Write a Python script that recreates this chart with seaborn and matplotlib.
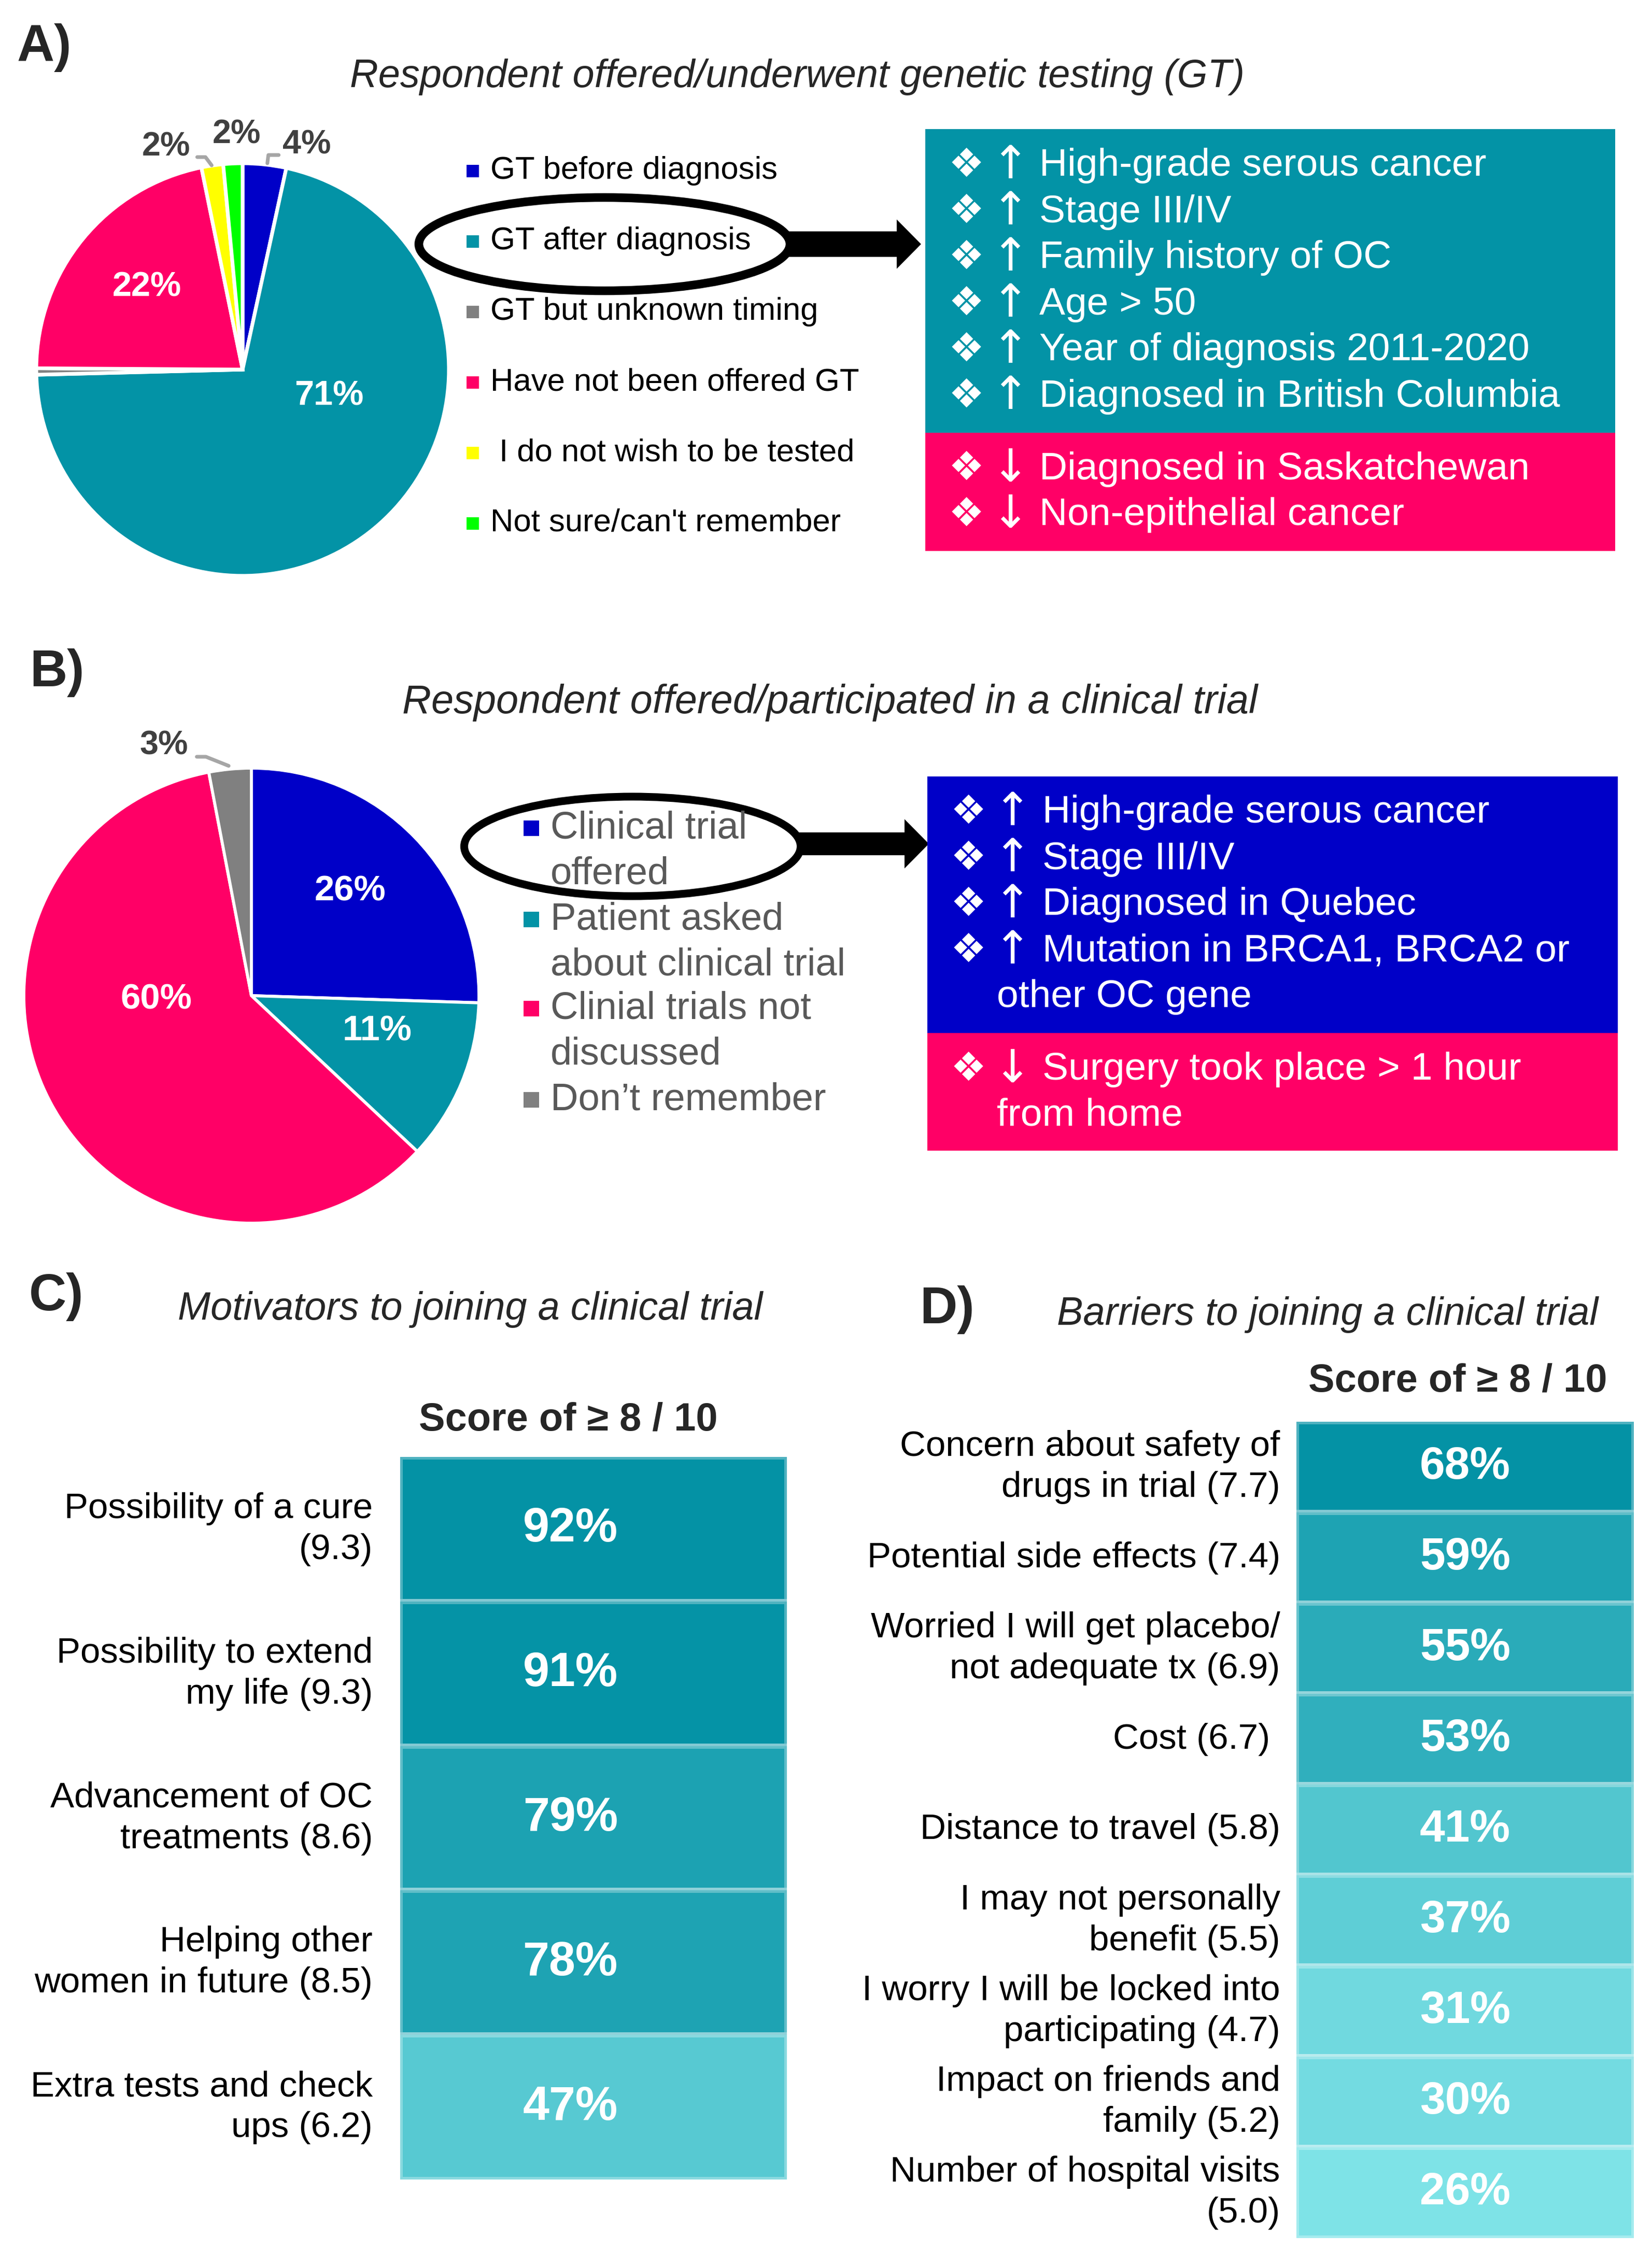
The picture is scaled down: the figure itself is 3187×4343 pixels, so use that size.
import numpy as np
import pandas as pd
import matplotlib
matplotlib.use("Agg")
import matplotlib.pyplot as plt
import matplotlib.patches as mpatches
from matplotlib.colors import LinearSegmentedColormap
import seaborn as sns

# ---- data -------------------------------------------------------------
# A) genetic testing
gt_labels = ["GT before diagnosis", "GT after diagnosis", "GT but unknown timing",
             "Have not been offered GT", " I do not wish to be tested",
             "Not sure/can't remember"]
gt_share = [3.4, 71.2, 0.5, 21.7, 1.7, 1.5]
gt_text = ["4%", "71%", "", "22%", "2%", "2%"]
gt_colors = ["#0000C8", "#0393A6", "#808080", "#FF0066", "#FFFF00", "#00FF00"]
gt_up = ["High-grade serous cancer", "Stage III/IV", "Family history of OC",
         "Age > 50", "Year of diagnosis 2011-2020", "Diagnosed in British Columbia"]
gt_down = ["Diagnosed in Saskatchewan", "Non-epithelial cancer"]

# B) clinical trials
ct_labels = ["Clinical trial\noffered", "Patient asked\nabout clinical trial",
             "Clinial trials not\ndiscussed", "Don\u2019t remember"]
ct_share = [25.5, 11.5, 60.0, 3.0]
ct_text = ["26%", "11%", "60%", "3%"]
ct_colors = ["#0000C8", "#0393A6", "#FF0066", "#808080"]
ct_up = ["High-grade serous cancer", "Stage III/IV", "Diagnosed in Quebec",
         "Mutation in BRCA1, BRCA2 or\nother OC gene"]
ct_down = ["Surgery took place > 1 hour\nfrom home"]

# C) motivators
motivators = ["Possibility of a cure\n(9.3)", "Possibility to extend\nmy life (9.3)",
              "Advancement of OC\ntreatments (8.6)", "Helping other\nwomen in future (8.5)",
              "Extra tests and check\nups (6.2)"]
motivator_pct = [92, 91, 79, 78, 47]

# D) barriers
barriers = ["Concern about safety of\ndrugs in trial (7.7)", "Potential side effects (7.4)",
            "Worried I will get placebo/\nnot adequate tx (6.9)", "Cost (6.7) ",
            "Distance to travel (5.8)", "I may not personally\nbenefit (5.5)",
            "I worry I will be locked into\nparticipating (4.7)",
            "Impact on friends and\nfamily (5.2)", "Number of hospital visits\n(5.0)"]
barrier_pct = [68, 59, 55, 53, 41, 37, 31, 30, 26]

# ---- figure -----------------------------------------------------------
W, H = 3187, 4343
sns.set_theme(style="white")
plt.rcParams["font.family"] = ["Liberation Sans", "DejaVu Sans"]

fig = plt.figure(figsize=(W / 300, H / 300), dpi=300)


def px_rect(x0, y0, x1, y1):
    return [x0 / W, 1 - y1 / H, (x1 - x0) / W, (y1 - y0) / H]


def draw_pie(ax, share, colors, lw):
    wedges, _ = ax.pie(share, colors=colors, startangle=90, counterclock=False,
                       radius=1, wedgeprops=dict(edgecolor="white", linewidth=lw))
    ax.set_xlim(-1, 1)
    ax.set_ylim(-1, 1)
    ax.set_aspect("equal")
    ax.set_facecolor("none")
    return wedges


# pie A
ax_a = fig.add_axes(px_rect(70, 315, 866, 1111))
draw_pie(ax_a, gt_share, gt_colors, 1.7)
pos_a = [(0.31, 1.09), (0.42, -0.13), None, (-0.465, 0.397), (-0.37, 1.08), (-0.03, 1.14)]
for txt, p in zip(gt_text, pos_a):
    if p is None or not txt:
        continue
    inside = p[0] ** 2 + p[1] ** 2 < 1
    ax_a.text(p[0], p[1], txt, ha="center", va="center", fontweight="bold",
              fontsize=16 if inside else 15.5, color="white" if inside else "#404040")
ax_a.plot([0.12, 0.125, 0.175], [1.0, 1.04, 1.04], color="#A6A6A6", lw=1.7, clip_on=False)
ax_a.plot([-0.15, -0.18, -0.22], [0.99, 1.03, 1.03], color="#A6A6A6", lw=1.7, clip_on=False)

# pie B
ax_b = fig.add_axes(px_rect(46, 1482, 924, 2360))
draw_pie(ax_b, ct_share, ct_colors, 1.4)
pos_b = [(0.435, 0.458), (0.553, -0.155), (-0.417, -0.016), (-0.385, 1.10)]
for txt, p in zip(ct_text, pos_b):
    inside = p[0] ** 2 + p[1] ** 2 < 1
    ax_b.text(p[0], p[1], txt, ha="center", va="center", fontweight="bold",
              fontsize=16.5 if inside else 15.5, color="white" if inside else "#404040")
ax_b.plot([-0.24, -0.2, -0.1], [1.05, 1.05, 1.01], color="#A6A6A6", lw=1.7, clip_on=False)

# heatmaps C and D
teal = LinearSegmentedColormap.from_list("teal_ramp", ["#7EE3E7", "#0492A5"])


def draw_scores(rect, labels, pct, vmax, annot_size, pad, shift):
    ax = fig.add_axes(px_rect(*rect))
    df = pd.DataFrame({"pct": pct}, index=labels)
    annot = np.array([[f"{v}%"] for v in pct])
    sns.heatmap(df, ax=ax, cmap=teal, vmin=26, vmax=vmax, cbar=False,
                annot=annot, fmt="", xticklabels=False,
                linewidths=2, linecolor=(1, 1, 1, 0.3),
                annot_kws=dict(fontsize=annot_size, fontweight="bold", color="white"))
    ax.set_ylabel("")
    ax.tick_params(axis="y", length=0, pad=pad, labelsize=16.6, labelcolor="black")
    plt.setp(ax.get_yticklabels(), rotation=0, ha="right", linespacing=1.3)
    for t in ax.texts:
        x, y = t.get_position()
        t.set_position((x + shift, y))
    return ax


draw_scores((772, 2811, 1518, 4205), motivators, motivator_pct, 92, 22, 12.7, -0.06)
draw_scores((2501, 2743, 3152, 4318), barriers, barrier_pct, 68, 21, 7.5, 0.0)

# ---- overlay: titles, legends, boxes, arrows -------------------------
ov = fig.add_axes([0, 0, 1, 1], zorder=10)
ov.axis("off")

for letter, x, y in [("A)", 33, 92), ("B)", 57, 1298), ("C)", 56, 2502), ("D)", 1774, 2527)]:
    ov.text(x, y, letter, fontsize=24, fontweight="bold", ha="left", va="center")

ov.text(1538, 148, "Respondent offered/underwent genetic testing (GT)", fontsize=18.2,
        style="italic", ha="center", va="center")
ov.text(1601, 1356, "Respondent offered/participated in a clinical trial", fontsize=18.6,
        style="italic", ha="center", va="center")
ov.text(907, 2527, "Motivators to joining a clinical trial", fontsize=18.2,
        style="italic", ha="center", va="center")
ov.text(2561, 2537, "Barriers to joining a clinical trial", fontsize=18.2,
        style="italic", ha="center", va="center")
ov.text(1096, 2740, "Score of \u2265 8 / 10", fontsize=18.2, fontweight="bold",
        ha="center", va="center")
ov.text(2812, 2665, "Score of \u2265 8 / 10", fontsize=18.2, fontweight="bold",
        ha="center", va="center")

# legend A
for i, (lab, col) in enumerate(zip(gt_labels, gt_colors)):
    y = 330 + i * 136
    ov.scatter(912, y, marker="s", s=34, color=col, linewidths=0)
    ov.text(946, y, lab, fontsize=14.8, ha="left", va="center", color="black")

# legend B
rows_b = [1598, 1774, 1946, 2122]
for lab, col, y in zip(ct_labels, ct_colors, rows_b):
    ov.scatter(1025, y, marker="s", s=49, color=col, linewidths=0)
    for j, line in enumerate(lab.split("\n")):
        ov.text(1062, y + j * 88, line, fontsize=17.8, ha="left", va="center", color="#595959")

# ellipses and arrows
ov.add_patch(mpatches.Ellipse((1166, 471), 716, 180, fill=False, edgecolor="black", lw=4))
ov.add_patch(mpatches.FancyArrow(1522, 471, 1774 - 1522, 0, width=45, head_width=85,
                                 head_length=42, length_includes_head=True, color="black"))
ov.add_patch(mpatches.Ellipse((1220, 1633), 649, 192, fill=False, edgecolor="black", lw=3.6))
ov.add_patch(mpatches.FancyArrow(1542, 1628, 1789 - 1542, 0, width=40, head_width=85,
                                 head_length=42, length_includes_head=True, color="black"))

# finding boxes
ov.add_patch(mpatches.Rectangle((1785, 249), 3116 - 1785, 835 - 249, color="#0393A6", lw=0))
ov.add_patch(mpatches.Rectangle((1785, 835), 3116 - 1785, 1063 - 835, color="#FF0066", lw=0))
ov.add_patch(mpatches.Rectangle((1789, 1498), 3121 - 1789, 1993 - 1498, color="#0000C8", lw=0))
ov.add_patch(mpatches.Rectangle((1789, 1993), 3121 - 1789, 2220 - 1993, color="#FF0066", lw=0))


def findings(items, arrow, y0, pitch, xs):
    y = y0
    for item in items:
        lines = item.split("\n")
        ov.text(xs[0], y, "\u2756", color="white", fontsize=18.5, ha="center", va="center",
                family=["DejaVu Sans"])
        ov.text(xs[1], y, arrow, color="white", fontsize=21, ha="center", va="center",
                family=["DejaVu Sans"])
        ov.text(xs[2], y, lines[0], color="white", fontsize=18, ha="left", va="center")
        for extra in lines[1:]:
            y += pitch
            ov.text(xs[3], y, extra, color="white", fontsize=18, ha="left", va="center")
        y += pitch


findings(gt_up, "\u2191", 320, 89, (1864, 1949, 2005, 1923))
findings(gt_down, "\u2193", 905, 89, (1864, 1949, 2005, 1923))
findings(ct_up, "\u2191", 1568, 89, (1868, 1953, 2011, 1923))
findings(ct_down, "\u2193", 2064, 88, (1868, 1953, 2011, 1923))

ov.set_xlim(0, W)
ov.set_ylim(H, 0)

fig.savefig("out.png", dpi=300)
